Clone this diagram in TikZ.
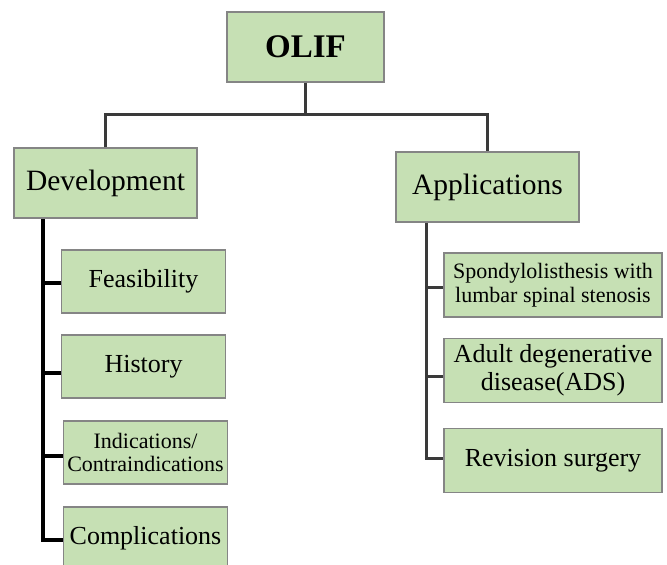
\documentclass[tikz,border=0pt]{standalone}
\usepackage{fontspec}
\setmainfont{Liberation Serif}
\usetikzlibrary{positioning}
\definecolor{boxfill}{HTML}{C6E0B4}
\definecolor{boxline}{HTML}{858585}
\definecolor{wirecol}{HTML}{3A3A3A}
\tikzset{
    box/.style={
           rectangle,
           draw=boxline, line width=1.5pt,
           fill=boxfill,
           inner sep=0pt,
           align=center
           },
    topbox/.style={
           box,
           minimum width=157pt,
           minimum height=70pt,
           font=\fontsize{33}{35}\selectfont\bfseries
           },
    mainbox/.style={
           box,
           minimum width=183pt,
           minimum height=70pt,
           font=\fontsize{29.5}{31}\selectfont
           },
    leafbox/.style={
           box,
           minimum width=164pt,
           minimum height=63pt,
           font=\fontsize{26}{28}\selectfont
           },
    appbox/.style={
           box,
           minimum width=218pt,
           minimum height=64pt,
           font=\fontsize{26}{28}\selectfont
           },
    small/.style={
           font=\fontsize{22}{23.5}\selectfont
           },
    wire/.style={
           draw=wirecol, line width=3pt
           },
    trunk/.style={
           draw=black, line width=3.2pt
           }
}

\begin{document}
\begin{tikzpicture}[x=1pt, y=-1pt, node distance=85pt, on grid]
   \useasboundingbox (0,0) rectangle (667,565);

   \node[topbox]  (olif) at (305.5,47) {OLIF};
   \node[mainbox] (dev)  [below left=136pt and 200pt of olif]  {Development};
   \node[mainbox] (app)  [below right=140pt and 182pt of olif] {Applications};

   % left column
   \node[leafbox] (feas) [below right=98.5pt and 38pt of dev] {Feasibility};
   \node[leafbox] (hist) [below=of feas] {History};
   \node[leafbox,small] (indi) [below right=86pt and 2pt of hist] {Indications/\\Contraindications};
   \node[leafbox] (comp) [below=86pt of indi] {Complications};

   % right column
   \node[appbox,small] (spon) [below right=98pt and 65.5pt of app] {Spondylolisthesis with\\lumbar spinal stenosis};
   \node[appbox]  (adul) [below=85.5pt of spon] {Adult degenerative\\disease(ADS)};
   \node[appbox]  (revi) [below=90pt of adul] {Revision surgery};

   \coordinate (fork) at (olif.south |- 0,114);
   \draw[wire] (olif.south) -- (fork);
   \draw[wire] (dev.north) |- (fork) -| (app.north);

   \draw[trunk] ([xshift=-62.5pt]dev.south) coordinate (ltop) |- ([yshift=-1.5pt]comp.west);
   \foreach \n/\d in {feas/-1.5,hist/-6.5,indi/-3.5}{
      \coordinate (tick) at ([yshift=\d pt]\n.west);
      \draw[trunk] (tick) -- (tick -| ltop);
   }

   \draw[wire] ([xshift=-61.5pt]app.south) coordinate (rtop) |- ([yshift=2.5pt]revi.west);
   \foreach \n/\d in {spon/-2,adul/-5.5}{
      \coordinate (tick) at ([yshift=\d pt]\n.west);
      \draw[wire] (tick) -- (tick -| rtop);
   }
\end{tikzpicture}
\end{document}
